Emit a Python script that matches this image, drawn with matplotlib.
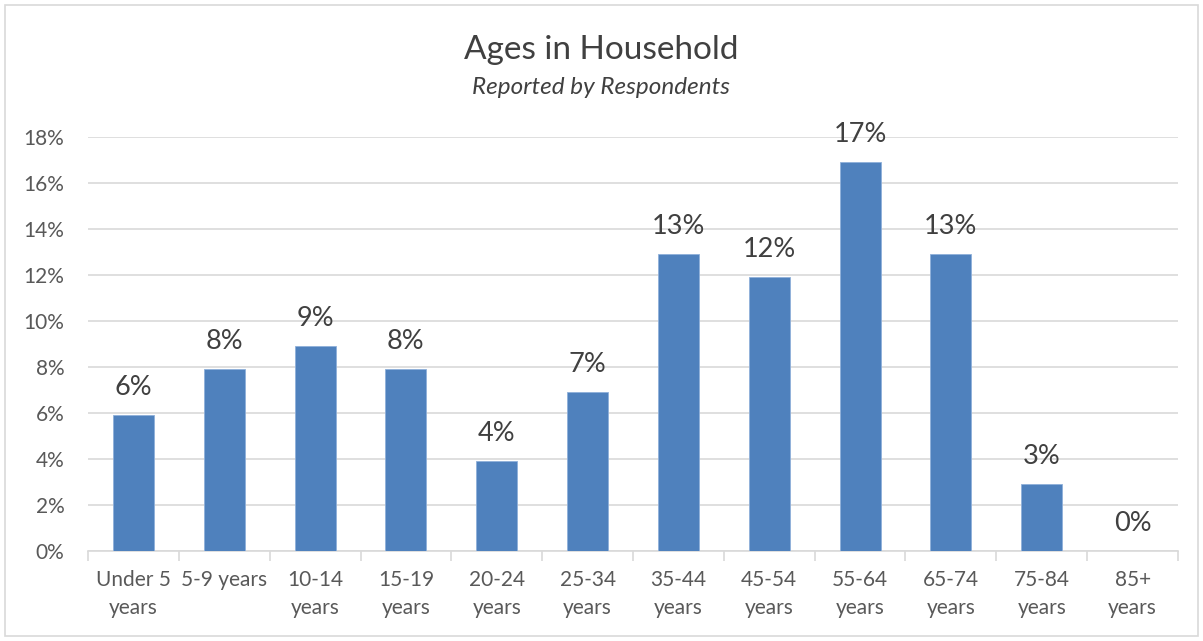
import matplotlib
matplotlib.use("Agg")
import matplotlib.pyplot as plt
from matplotlib.patches import Rectangle

categories = ["Under 5\nyears", "5-9 years", "10-14\nyears", "15-19\nyears", "20-24\nyears",
              "25-34\nyears", "35-44\nyears", "45-54\nyears", "55-64\nyears", "65-74\nyears",
              "75-84\nyears", "85+\nyears"]
values = [5.9, 7.9, 8.9, 7.9, 3.9, 6.9, 12.9, 11.9, 16.9, 12.9, 2.9, 0.0]
yticks = [0, 2, 4, 6, 8, 10, 12, 14, 16, 18]

plt.rcParams['font.family'] = ['Lato', 'DejaVu Sans']

W, H = 1203, 641
fig = plt.figure(figsize=(W/100, H/100), dpi=100)
fig.patches.append(Rectangle((5/W, 5/H), 1193/W, 631/H, transform=fig.transFigure,
                             fill=False, edgecolor="#D9D9D9", linewidth=1.2))

ax = fig.add_axes([88/W, 1-551/H, (1178-88)/W, (551-137)/H])
x = list(range(len(categories)))
ax.bar(x, values, width=0.45, color="#4F81BD", edgecolor="#8FB0DA", linewidth=0.6, zorder=3)
ax.set_xlim(-0.5, len(categories)-0.5)
ax.set_ylim(0, 18)
ax.set_yticks(yticks)
ax.set_yticklabels([f"{t}%" for t in yticks], fontsize=15, color="#595959")
ax.grid(axis="y", color="#D9D9D9", linewidth=1.2, zorder=0)
for s in ["top", "right", "left"]:
    ax.spines[s].set_visible(False)
ax.spines["bottom"].set_color("#D9D9D9")
ax.spines["bottom"].set_linewidth(1.2)
ax.tick_params(axis="y", length=0, pad=17)
ax.set_xticks(x)
ax.set_xticklabels(categories, fontsize=15, color="#595959", linespacing=1.5)
ax.set_xticks([i - 0.5 for i in range(len(categories)+1)], minor=True)
ax.tick_params(axis="x", which="major", length=0, pad=14)
ax.tick_params(axis="x", which="minor", length=7, color="#D9D9D9", width=1.2)

for xi, v in zip(x, values):
    ax.annotate(f"{round(v):.0f}%", (xi, v), xytext=(0, 11), textcoords="offset points",
                ha="center", va="bottom", fontsize=19.5, color="#404040")

fig.text(0.5, 1-50/H, "Ages in Household", ha="center", va="center", fontsize=24, color="#404040")
fig.text(0.5, 1-88/H, "Reported by Respondents", ha="center", va="center", fontsize=17.5,
         style="italic", color="#404040")

fig.savefig("out.png", dpi=100)
